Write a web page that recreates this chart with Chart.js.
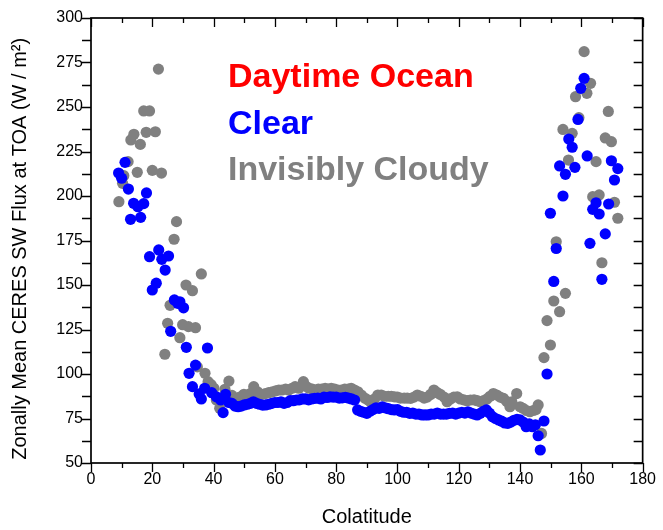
<!DOCTYPE html>
<html><head><meta charset="utf-8">
<script src="https://cdn.jsdelivr.net/npm/chart.js@4/dist/chart.umd.min.js"></script>
<style>html,body{margin:0;padding:0;background:#fff}canvas{display:block}</style>
</head><body>
<canvas id="c" width="663" height="530"></canvas>
<script>
// Colatitude (deg) and flux (W/m^2) for "Clear"
const clearX = [9.0,10.0,11.1,12.2,12.9,13.9,15.3,16.2,17.2,18.1,19.1,20.0,21.3,22.1,23.1,24.2,25.3,26.0,27.2,28.3,29.0,30.2,31.1,32.0,33.1,34.1,35.3,36.0,37.1,38.0,39.4,40.9,42.3,43.1,43.9,
45,46,47,48,49,50,51,52,53,54,55,56,57,58,59,60,61,62,63,64,65,66,67,68,69,70,71,72,73,74,75,76,77,78,79,80,81,82,83,84,85,86,87,88,89,90,91,92,93,94,95,96,97,98,99,100,
101,102,103,104,105,106,107,108,109,110,111,112,113,114,115,116,117,118,119,120,121,122,123,124,125,126,127,128,129,130,131,132,133,134,135,136,137,138,139,140,141,142,143,144,145,145.9,146.6,147.8,148.8,149.9,151.0,151.8,
152.9,154.0,154.8,155.9,157.0,157.9,158.9,159.8,160.9,161.9,162.8,163.7,164.8,165.8,166.7,167.8,168.9,169.8,170.8,171.9];
const clearY = [212.9,210,218.9,203.9,186.9,195.9,194,188,195.7,201.7,165.9,147.2,151,169.7,164.4,158.4,166.3,124,141.6,139.7,140.6,137.2,115,100.4,92.9,105,88.8,86,92,114.6,89.5,87.2,85.4,78.3,88.6,
84,83.5,82,81.6,82,82.6,83,83.5,84.4,83.5,83,82.5,82.6,83,83.5,84,84,84.4,83.5,84,85,85,85.4,85.5,86,86,85.5,86,86.3,86.5,86,87,86.8,87.2,87,87,86.5,86.6,86.9,86.5,86,85.4,79.8,79,78.5,77.9,79,80,81,80.7,81.5,81,80.5,80,79.8,80,
79,78.5,78.5,77.9,78,77.5,77.5,77,77,77,77.5,77.5,78,77.5,77.5,77.5,77.9,78,77.5,78,78.5,78,78.8,78,77.5,77,77.9,79,79.8,78,76,75,74.2,73.5,72.5,72.3,73,74,74.5,74.2,73,70.4,72,70.4,71.5,65.3,57.3,73.6,100,190.3,152,170.5,
216.9,200,212.2,232,227.4,216.1,243,260.5,266.1,222.5,173.4,192.5,196.2,189.9,153.2,178.7,195.5,219.8,209,215.4];

// Colatitude (deg) and flux (W/m^2) for "Invisibly Cloudy"
const cloudyX = [9.1,10.3,10.7,12.1,13.0,14.0,15.1,16.1,17.2,18.0,19.1,20.0,21.0,22.0,23.0,24.1,25.0,25.8,27.1,27.9,29.0,29.9,31.0,31.8,33.1,34.1,34.7,36.0,37.2,38.2,39.2,40.1,40.9,42.0,43.7,45.0,46.0,47.2,48.5,49.9,
51,52,53.1,54.3,55.5,56.9,58,59.2,60.3,61.3,62.3,63.5,64.5,65.6,66.6,67.8,69.3,70.2,71.2,72.2,73.1,74.2,75.3,76.4,77.4,78.4,79.5,80.6,81.7,82.8,83.9,84.9,86,87.1,88.2,89.3,90.3,91.2,92.5,93.6,94.7,95.8,97,98,99,100,
101,102.2,103.2,104.3,105.4,106.5,107.6,108.7,109.7,110.8,111.9,113,114,115.2,116.2,117.3,118.4,119.5,120.5,121.6,122.7,123.8,125,126,127,128.1,129.2,130.2,131.3,132.4,133.5,134.6,135.7,136.7,137.3,138.9,140,141,142.1,143.2,144.3,145.2,145.9,
147.0,147.8,148.8,149.9,151.0,151.8,152.9,154.0,154.8,155.8,157.0,158.1,159.2,160.9,161.8,163.0,163.7,164.8,165.8,166.7,167.8,168.8,169.8,170.8,171.9];
const cloudyY = [196.8,207.1,211.4,219.3,231.5,234.7,213.3,229,247.8,235.8,247.8,214.4,236.1,271.3,212.9,111.1,128.5,138.6,175.7,185.6,120.4,127.7,150,126.6,146.8,126,104,156.2,100.4,95.7,94,92,85.4,80.7,91.4,96,88,85.4,87,88.6,
88,89,92.9,90,88.5,89,89.5,90,90.5,91,91,91.5,91,92,92.9,92,95.7,93,92,91.5,91,91.5,91.5,92,91.5,92,91.5,91,91,91.5,91.5,92,91,90,88.2,86.5,85.5,84.4,86,88.2,88.2,87.5,87.5,87.5,87.2,87,
86.5,86.5,86.5,86.3,87,88.2,87.5,86.5,87,88.5,91,89.5,88.5,87,84.4,86,87,87.2,86,85.5,85,85.4,85.5,85,84.4,85,86,87.5,89,88.2,87,86.3,84.5,81.6,84.4,89,81.6,80.7,79.5,78.8,79.5,80,82.6,
66.6,109.2,130,116.3,141,174.3,135,237.4,145.3,220.2,235.2,255.8,244,281.1,257.7,263.3,199.6,219.3,200.6,162.5,232.6,247.5,230.5,196.5,187.5];

const seriesNames = ['Clear','Invisibly Cloudy'];
const annotationLines = ['Daytime Ocean','Clear','Invisibly Cloudy'];
const xMajorTicks = [0,20,40,60,80,100,120,140,160,180];
const yMajorTicks = [50,75,100,125,150,175,200,225,250,275,300];

const BLUE = '#0000ff', GRAY = '#808080', RED = '#ff0000';
const FONT = '"Liberation Sans", Arial, sans-serif';

function pts(xs, ys){ return xs.map((v,i)=>({x:v, y:ys[i]})); }

const framePlugin = {
  id: 'frame',
  afterDatasetsDraw(chart){
    const {ctx, chartArea:{left,right,top,bottom}, scales:{x,y}} = chart;
    ctx.save();
    ctx.strokeStyle = '#000';
    ctx.lineWidth = 1.7;
    ctx.strokeRect(left, top, right-left, bottom-top);
    ctx.lineWidth = 1.3;
    ctx.beginPath();
    for (let v = x.min; v <= x.max; v += 10) {
      const px = Math.round(x.getPixelForValue(v)) + 0.5;
      const L = xMajorTicks.includes(v) ? 9 : 5;
      ctx.moveTo(px, bottom); ctx.lineTo(px, bottom + L);
      ctx.moveTo(px, top); ctx.lineTo(px, top + L);
    }
    for (let v = y.min; v <= y.max; v += 12.5) {
      const py = Math.round(y.getPixelForValue(v)) + 0.5;
      ctx.moveTo(left, py); ctx.lineTo(left - 9, py);
      ctx.moveTo(right, py); ctx.lineTo(right - 9, py);
    }
    ctx.stroke();
    const colors = [RED, BLUE, GRAY];
    const baselines = [87, 134, 180];
    ctx.font = 'bold 34px ' + FONT;
    ctx.textAlign = 'left';
    ctx.textBaseline = 'alphabetic';
    annotationLines.forEach((t,i)=>{ ctx.fillStyle = colors[i]; ctx.fillText(t, 228, baselines[i]); });
    ctx.restore();
  }
};

new Chart(document.getElementById('c'), {
  type: 'scatter',
  data: {
    datasets: [
      { label: seriesNames[0], data: pts(clearX, clearY), backgroundColor: BLUE, borderColor: BLUE, pointRadius: 5.6, pointBorderWidth: 0 },
      { label: seriesNames[1], data: pts(cloudyX, cloudyY), backgroundColor: GRAY, borderColor: GRAY, pointRadius: 5.6, pointBorderWidth: 0 }
    ]
  },
  options: {
    responsive: false,
    animation: false,
    layout: { padding: { top: 18, right: 16, left: 0, bottom: 0 } },
    plugins: { legend: { display: false }, tooltip: { enabled: false } },
    scales: {
      x: {
        type: 'linear', min: 0, max: 180,
        afterFit(s){ s.height = 67; },
        grid: { display: false, drawTicks: false },
        border: { display: false },
        ticks: { stepSize: 20, autoSkip: false, maxRotation: 0, padding: 7, color: '#000', font: { family: FONT, size: 16 },
                 callback: v => xMajorTicks.includes(v) ? String(v) : '' },
        title: { display: true, text: 'Colatitude', color: '#000', font: { family: FONT, size: 20 }, padding: { top: 0, bottom: 1 } }
      },
      y: {
        type: 'linear', min: 50, max: 300,
        afterFit(s){ s.width = 91; },
        grid: { display: false, drawTicks: false },
        border: { display: false },
        ticks: { stepSize: 25, autoSkip: false, padding: 8, color: '#000', font: { family: FONT, size: 16 },
                 callback: v => yMajorTicks.includes(v) ? String(v) : '' },
        title: { display: true, text: 'Zonally Mean CERES SW Flux at TOA (W / m²)   ', color: '#000', font: { family: FONT, size: 20 }, padding: { top: 8, bottom: 0 } }
      }
    }
  },
  plugins: [framePlugin]
});
</script>
</body></html>
